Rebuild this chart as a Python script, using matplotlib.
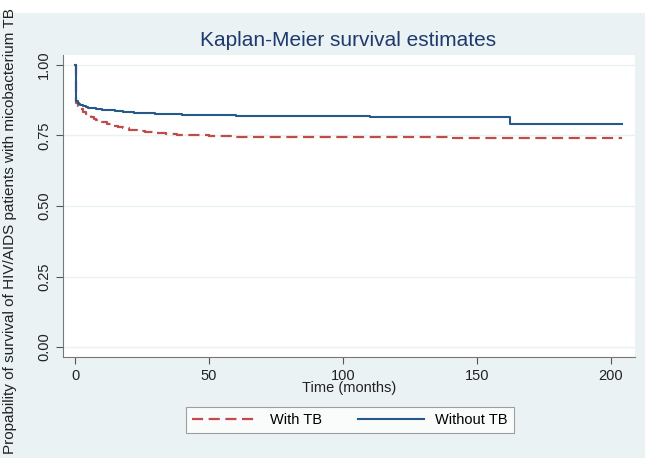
import matplotlib.pyplot as plt

# Kaplan-Meier step estimates
time_without_tb = [0, 0.2, 0.5, 1, 1.5, 2, 3, 4, 5, 6, 8, 10, 12, 15, 18, 22, 26, 30, 35, 40,
                   50, 60, 75, 90, 110, 130, 162.5, 204]
surv_without_tb = [1.0, 0.882, 0.872, 0.864, 0.86, 0.857, 0.853, 0.85, 0.848, 0.846, 0.843, 0.841,
                   0.839, 0.836, 0.834, 0.831, 0.829, 0.827, 0.825, 0.823, 0.821, 0.82, 0.819,
                   0.818, 0.817, 0.816, 0.79, 0.79]

time_with_tb = [0, 0.2, 0.5, 1, 1.5, 2, 3, 4, 5, 6, 7, 8, 9, 10, 12, 14, 16, 18, 20, 23, 26, 30,
                34, 38, 43, 50, 60, 75, 90, 110, 140, 204]
surv_with_tb = [1.0, 0.88, 0.866, 0.856, 0.849, 0.843, 0.834, 0.827, 0.821, 0.815, 0.81, 0.806,
                0.802, 0.798, 0.791, 0.785, 0.78, 0.775, 0.771, 0.766, 0.762, 0.758, 0.755, 0.752,
                0.75, 0.748, 0.746, 0.745, 0.744, 0.743, 0.742, 0.742]

x_ticks = [0, 50, 100, 150, 200]
y_ticks = [0.00, 0.25, 0.50, 0.75, 1.00]

bg = '#eaf2f3'
navy = '#24598a'
maroon = '#bf4b4b'

plt.rcParams['font.family'] = ['Liberation Sans', 'DejaVu Sans']

fig = plt.figure(figsize=(6.45, 4.58), dpi=100)
fig.patch.set_facecolor(bg)
# white strip on top like the screenshot
fig.patches.append(plt.Rectangle((0, 1 - 13 / 458), 1, 13 / 458, transform=fig.transFigure,
                                 facecolor='white', edgecolor='none', zorder=0))

ax = fig.add_axes([63 / 645, 1 - 357 / 458, 572 / 645, 302 / 458])
ax.set_facecolor('white')

ax.step(time_with_tb, surv_with_tb, where='post', color=maroon, lw=1.6,
        linestyle=(0, (5, 2.5)), label='With TB')
ax.step(time_without_tb, surv_without_tb, where='post', color=navy, lw=1.5, label='Without TB')

ax.set_xlim(-4.5, 209)
ax.set_ylim(-0.035, 1.035)
ax.set_xticks(x_ticks)
ax.set_yticks(y_ticks)
ax.set_yticklabels([f'{v:.2f}' for v in y_ticks], rotation=90, va='center')
ax.tick_params(colors='#555555', labelcolor='#222222', labelsize=10.5, length=5, width=0.8)
ax.grid(axis='y', color=bg, lw=1)
ax.set_axisbelow(True)
for s in ['top', 'right']:
    ax.spines[s].set_visible(False)
for s in ['left', 'bottom']:
    ax.spines[s].set_color('#777777')

ax.set_xlabel('Time (months)', fontsize=10.5, color='#222222', labelpad=-1)
fig.text(10 / 645, 1 - 231 / 458, 'Propability of survival of HIV/AIDS patients with micobacterium TB',
         rotation=90, ha='center', va='center', fontsize=11, color='#222222')
fig.text(0.54, 1 - 40 / 458, 'Kaplan-Meier survival estimates', ha='center', va='center',
         fontsize=15, color='#1e3a6e')

leg = fig.legend(loc='center', bbox_to_anchor=(350 / 645, 1 - 420 / 458), ncol=2,
                 fontsize=10.5, handlelength=4.5, columnspacing=2.5, frameon=True,
                 fancybox=False, edgecolor='#888888')
leg.get_frame().set_linewidth(0.8)

fig.savefig('out.png', dpi=100, facecolor=fig.get_facecolor())
